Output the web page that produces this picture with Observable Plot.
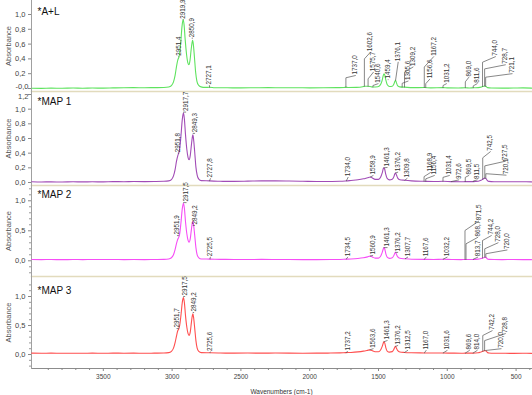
<!DOCTYPE html>
<html><head><meta charset="utf-8">
<script src="https://cdn.jsdelivr.net/npm/d3@7"></script>
<script src="https://cdn.jsdelivr.net/npm/@observablehq/plot@0.6"></script>
<style>
body{margin:0;background:#fff;}
#chart{position:relative;width:532px;height:395px;overflow:hidden;background:#fff;}
#chart svg{position:absolute;left:0;overflow:visible;background:transparent;}
</style></head><body><div id="chart"></div>
<script>
// ---- data ----
const panelNames = ["*A+L", "*MAP 1", "*MAP 2", "*MAP 3"];
const panelColors = ["#5fe35f", "#a24cb6", "#f64ef6", "#ff4f4f"];
const yTicksA = [0, 0.2, 0.4, 0.6, 0.8, 1.0];
const yTicksB = [0, 0.2, 0.4, 0.6, 0.8, 1.0, 1.2];
const yTicksC = [0, 0.5, 1.0];
const yMinorC = [-0.2, -0.1, 0.1, 0.2, 0.3, 0.4, 0.6, 0.7, 0.8, 0.9, 1.1, 1.2];
const xTickLabels = [3500, 3000, 2500, 2000, 1500, 1000, 500];
const xMinorTicks = [3900,3800,3700,3600,3400,3300,3200,3100,2900,2800,2700,2600,2400,2300,2200,2100,1900,1800,1700,1600,1400,1300,1200,1100,900,800,700,600,400];

// spectra: [wavenumber cm-1, absorbance]
const specAL = [[4020,0.004],[3950,0.002],[3880,0.005],[3800,0.003],[3720,0.006],[3650,0.004],[3580,0.006],[3500,0.005],[3430,0.008],[3350,0.011],[3280,0.012],[3200,0.01],[3130,0.012],[3060,0.014],[3025,0.02],[3005,0.04],[2990,0.09],[2978,0.18],[2968,0.3],[2958,0.39],[2951,0.42],[2945,0.48],[2937,0.63],[2928,0.84],[2920,0.93],[2913,0.86],[2905,0.66],[2895,0.46],[2886,0.35],[2878,0.32],[2870,0.38],[2862,0.52],[2855,0.62],[2851,0.65],[2846,0.6],[2838,0.43],[2829,0.22],[2820,0.1],[2808,0.045],[2790,0.022],[2760,0.015],[2727,0.016],[2690,0.011],[2600,0.01],[2500,0.008],[2400,0.01],[2300,0.012],[2200,0.01],[2100,0.011],[2000,0.009],[1900,0.01],[1800,0.012],[1750,0.013],[1737,0.018],[1720,0.013],[1660,0.015],[1615,0.024],[1602,0.03],[1576,0.03],[1555,0.024],[1540,0.02],[1505,0.024],[1488,0.045],[1475,0.1],[1466,0.17],[1460,0.2],[1454,0.18],[1446,0.11],[1436,0.05],[1420,0.027],[1400,0.03],[1388,0.06],[1380,0.1],[1376,0.11],[1370,0.08],[1362,0.04],[1345,0.022],[1310,0.018],[1250,0.012],[1167,0.013],[1120,0.009],[1031,0.012],[1000,0.008],[920,0.006],[869,0.01],[840,0.007],[811,0.01],[775,0.012],[752,0.02],[744,0.026],[729,0.034],[721,0.03],[708,0.012],[680,0.007],[600,0.005],[520,0.006],[450,0.008],[388,0.005]];
const specMAP1 = [[4020,0.01],[3950,0.007],[3880,0.009],[3800,0.006],[3720,0.01],[3650,0.008],[3580,0.01],[3500,0.008],[3430,0.012],[3350,0.011],[3280,0.013],[3200,0.012],[3130,0.013],[3060,0.016],[3025,0.022],[3005,0.04],[2990,0.09],[2978,0.18],[2968,0.29],[2958,0.37],[2952,0.4],[2945,0.46],[2936,0.63],[2926,0.86],[2918,0.95],[2911,0.87],[2903,0.66],[2893,0.45],[2884,0.34],[2877,0.31],[2868,0.37],[2860,0.51],[2853,0.62],[2849,0.65],[2844,0.59],[2836,0.42],[2827,0.21],[2818,0.1],[2806,0.045],[2788,0.025],[2728,0.022],[2650,0.016],[2550,0.015],[2450,0.018],[2350,0.022],[2250,0.022],[2150,0.02],[2050,0.017],[1950,0.013],[1850,0.014],[1780,0.016],[1734,0.022],[1700,0.028],[1650,0.037],[1610,0.05],[1580,0.065],[1559,0.075],[1545,0.062],[1525,0.042],[1500,0.042],[1485,0.07],[1473,0.13],[1465,0.19],[1461,0.2],[1455,0.18],[1447,0.11],[1437,0.055],[1420,0.036],[1400,0.045],[1388,0.08],[1381,0.12],[1376,0.13],[1370,0.105],[1360,0.06],[1345,0.038],[1310,0.03],[1260,0.022],[1169,0.016],[1100,0.013],[1031,0.016],[973,0.012],[900,0.01],[870,0.012],[811,0.012],[775,0.018],[755,0.03],[742,0.045],[728,0.06],[720,0.056],[710,0.03],[697,0.015],[660,0.011],[600,0.01],[520,0.011],[450,0.01],[388,0.008]];
const specMAP2 = [[4020,0.022],[3950,0.02],[3880,0.021],[3800,0.019],[3720,0.021],[3650,0.02],[3580,0.022],[3500,0.021],[3430,0.022],[3350,0.02],[3280,0.021],[3200,0.02],[3130,0.022],[3060,0.024],[3025,0.03],[3005,0.05],[2990,0.1],[2978,0.19],[2968,0.29],[2959,0.36],[2952,0.39],[2945,0.45],[2936,0.63],[2926,0.87],[2918,0.96],[2911,0.88],[2903,0.66],[2893,0.45],[2884,0.34],[2877,0.31],[2868,0.37],[2860,0.52],[2853,0.63],[2849,0.66],[2844,0.6],[2836,0.43],[2827,0.22],[2818,0.1],[2806,0.05],[2788,0.03],[2725,0.028],[2650,0.024],[2550,0.022],[2450,0.022],[2350,0.023],[2250,0.022],[2150,0.021],[2050,0.02],[1950,0.02],[1850,0.021],[1780,0.022],[1734,0.027],[1700,0.03],[1650,0.038],[1610,0.05],[1580,0.065],[1561,0.078],[1546,0.065],[1525,0.045],[1500,0.045],[1485,0.075],[1473,0.14],[1465,0.2],[1461,0.22],[1455,0.2],[1447,0.12],[1437,0.06],[1420,0.04],[1400,0.05],[1388,0.09],[1381,0.13],[1376,0.14],[1370,0.11],[1360,0.065],[1345,0.042],[1308,0.033],[1260,0.026],[1168,0.024],[1100,0.022],[1032,0.025],[970,0.022],[900,0.02],[870,0.022],[814,0.022],[775,0.027],[755,0.038],[744,0.045],[728,0.06],[720,0.058],[710,0.035],[697,0.024],[660,0.021],[600,0.02],[520,0.021],[450,0.02],[388,0.019]];
const specMAP3 = [[4020,0.024],[3950,0.022],[3880,0.024],[3800,0.021],[3720,0.023],[3650,0.022],[3580,0.024],[3500,0.022],[3430,0.024],[3350,0.023],[3280,0.024],[3200,0.022],[3130,0.024],[3060,0.026],[3025,0.032],[3005,0.055],[2990,0.11],[2978,0.21],[2968,0.32],[2959,0.41],[2952,0.44],[2945,0.5],[2936,0.67],[2926,0.9],[2918,0.98],[2911,0.9],[2903,0.68],[2893,0.47],[2884,0.36],[2877,0.33],[2868,0.39],[2860,0.55],[2853,0.67],[2849,0.7],[2844,0.64],[2836,0.46],[2827,0.24],[2818,0.11],[2806,0.055],[2788,0.033],[2726,0.03],[2650,0.026],[2550,0.024],[2450,0.025],[2350,0.024],[2250,0.025],[2150,0.024],[2050,0.023],[1950,0.024],[1850,0.025],[1780,0.028],[1737,0.033],[1700,0.036],[1650,0.045],[1610,0.058],[1580,0.072],[1564,0.08],[1548,0.068],[1525,0.048],[1500,0.047],[1485,0.078],[1473,0.14],[1465,0.2],[1461,0.22],[1455,0.2],[1447,0.12],[1437,0.06],[1420,0.042],[1400,0.05],[1388,0.09],[1381,0.13],[1376,0.14],[1370,0.11],[1360,0.066],[1345,0.044],[1312,0.035],[1260,0.03],[1167,0.027],[1100,0.025],[1031,0.026],[970,0.024],[900,0.022],[870,0.024],[814,0.024],[775,0.03],[755,0.045],[742,0.055],[729,0.068],[720,0.066],[710,0.04],[697,0.026],[660,0.022],[600,0.021],[520,0.02],[450,0.021],[388,0.02]];

// peak labels: [peak cm-1, text, leader start abs, leader knee abs, text cm-1, text abs]
const labelsAL = [[2951.4,"2951,4",0.43,0.43,2952,0.43],[2919.9,"2919,9",0.93,0.93,2920,0.93],[2850.9,"2850,9",0.68,0.68,2855,0.68],[2727.1,"2727,1",0.015,0.015,2729,0.04],[1737.0,"1737,0",0.018,0.145,1668,0.175],[1602.6,"1602,6",0.03,0.40,1559,0.49],[1575.7,"1575,7",0.03,0.13,1537,0.22],[1540.6,"1540,6",0.02,0.04,1503,0.065],[1430,"1459,4",0.12,0.12,1430,0.12],[1376.1,"1376,1",0.11,0.11,1357,0.355],[1328,"1305,6",0.02,0.07,1285,0.10],[1311,"1309,2",0.02,0.22,1249,0.29],[1167.2,"1167,2",0.013,0.29,1099,0.43],[1156.6,"1156,6",0.013,0.065,1128,0.125],[1031.2,"1031,2",0.012,0.04,1006,0.065],[869.0,"869,0",0.01,0.09,844,0.15],[811.6,"811,6",0.01,0.035,783,0.065],[744.0,"744,0",0.026,0.355,650,0.43],[728.7,"728,7",0.034,0.265,578,0.32],[721.1,"721,1",0.03,0.153,529,0.2]];
const labelsMAP1 = [[2951.8,"2951,8",0.40,0.40,2956,0.40],[2917.7,"2917,7",0.96,0.96,2901,0.96],[2849.3,"2849,3",0.67,0.67,2836,0.67],[2727.8,"2727,8",0.022,0.022,2722,0.053],[1734.0,"1734,0",0.022,0.022,1721,0.07],[1558.9,"1558,9",0.075,0.075,1539,0.095],[1461.3,"1461,3",0.2,0.2,1437,0.205],[1376.2,"1376,2",0.13,0.13,1360,0.14],[1309.8,"1309,8",0.03,0.03,1292,0.055],[1168.9,"1168,9",0.016,0.08,1123,0.135],[1156.4,"1156,4",0.016,0.05,1094,0.095],[1031.4,"1031,4",0.016,0.07,985,0.095],[972.6,"972,6",0.012,0.012,917,0.035],[869.5,"869,5",0.012,0.07,844,0.095],[811.5,"811,5",0.012,0.02,783,0.035],[742.5,"742,5",0.045,0.337,687,0.42],[727.5,"727,5",0.06,0.227,578,0.29],[720.1,"720,1",0.056,0.12,573,0.10]];
const labelsMAP2 = [[2951.9,"2951,9",0.42,0.42,2962,0.42],[2917.5,"2917,5",0.97,0.97,2898,0.97],[2849.2,"2849,2",0.59,0.59,2836,0.59],[2725.5,"2725,5",0.028,0.028,2722,0.06],[1734.5,"1734,5",0.027,0.027,1724,0.06],[1560.9,"1560,9",0.078,0.078,1542,0.09],[1461.3,"1461,3",0.22,0.22,1437,0.22],[1376.2,"1376,2",0.14,0.14,1360,0.14],[1307.7,"1307,7",0.033,0.033,1288,0.06],[1167.6,"1167,6",0.024,0.024,1154,0.06],[1032.2,"1032,2",0.025,0.025,1001,0.06],[871.5,"871,5",0.022,0.505,772,0.66],[864,"868,7",0.022,0.283,779,0.39],[813.7,"813,7",0.022,0.022,779,0.06],[744.2,"744,2",0.045,0.338,680,0.42],[728.0,"728,0",0.06,0.2,631,0.30],[720.0,"720,0",0.058,0.117,566,0.18]];
const labelsMAP3 = [[2951.7,"2951,7",0.448,0.448,2965,0.448],[2917.5,"2917,5",1.0,1.0,2908,1.0],[2849.2,"2849,2",0.724,0.724,2843,0.724],[2725.6,"2725,6",0.03,0.03,2722,0.045],[1737.2,"1737,2",0.033,0.033,1724,0.05],[1563.6,"1563,6",0.08,0.08,1539,0.1],[1461.3,"1461,3",0.22,0.22,1437,0.24],[1376.2,"1376,2",0.14,0.14,1360,0.155],[1312.5,"1312,5",0.035,0.035,1288,0.07],[1167.0,"1167,0",0.027,0.027,1154,0.07],[1031.6,"1031,6",0.026,0.026,1001,0.07],[869.6,"869,6",0.024,0.024,839,0.07],[814.0,"814,0",0.024,0.024,783,0.07],[742.2,"742,2",0.055,0.328,674,0.41],[728.8,"728,8",0.068,0.24,578,0.36],[720.0,"720,0",0.066,0.07,609,0.1]];

// ---- layout ----
const FONT = "'Liberation Sans', Arial, sans-serif";
const xDomain = [4022, 388];
const panels = [
  {spec: specAL, labels: labelsAL, top: 0, h: 91, yDom: [-0.0405, 1.189], ticks: yTicksA, minor: null, zero: "-0,0", titleDy: 7, nudge: {v: 0, dy: -1.5}},
  {spec: specMAP1, labels: labelsMAP1, top: 91, h: 94, yDom: [-0.041, 1.241], ticks: yTicksB, minor: null, zero: "0,0", titleDy: 6, nudge: {v: 1.2, dy: 1.8}},
  {spec: specMAP2, labels: labelsMAP2, top: 185, h: 91, yDom: [-0.262, 1.255], ticks: yTicksC, minor: yMinorC, zero: "0,0", titleDy: 5},
  {spec: specMAP3, labels: labelsMAP3, top: 276, h: 92, yDom: [-0.241, 1.345], ticks: yTicksC, minor: yMinorC, zero: "0,0", titleDy: 10, last: true}
];
const chart = document.getElementById("chart");

panels.forEach((p, k) => {
  const fmt = d => Math.abs(d) < 1e-9 ? p.zero : d.toFixed(1).replace(".", ",");
  const spec = p.spec.map(([wn, a]) => ({wn, a}));
  const leaders = p.labels.flatMap(([wn, t, y0, yk, tw, yt], i) => [{i, wn, a: y0}, {i, wn, a: yk}, {i, wn: tw, a: yt}]);
  const texts = p.labels.map(([wn, t, y0, yk, tw, yt]) => ({t, wn: tw, a: yt}));
  const mainTicks = p.nudge ? p.ticks.filter(v => v !== p.nudge.v) : p.ticks;
  const axisOpts = {tickSize: 3, tickPadding: 3, tickFormat: fmt, fontSize: 7.5, fill: "#444", stroke: "#888", label: null};
  const marks = [
    p.last ? Plot.frame({anchor: "bottom", stroke: "#8c8c8c"}) : Plot.frame({anchor: "bottom", stroke: "#e2dbbd", strokeWidth: 1.6}),
    Plot.frame({anchor: "left", stroke: "#a0a0a0"}),
    Plot.axisY({...axisOpts, ticks: mainTicks})
  ];
  if (p.nudge) {
    marks.push(Plot.axisY({...axisOpts, ticks: [p.nudge.v], text: null}));
    marks.push(Plot.axisY({...axisOpts, ticks: [p.nudge.v], tickSize: 0, stroke: null, dy: p.nudge.dy}));
  }
  if (p.minor) marks.push(Plot.axisY({ticks: p.minor, tickSize: 2, tickFormat: () => "", stroke: "#999", label: null}));
  if (p.last) {
    marks.push(
      Plot.axisX({ticks: xMinorTicks, tickSize: 2, tickFormat: () => "", stroke: "#888", label: null}),
      Plot.axisX({ticks: xTickLabels, tickSize: 3, tickPadding: 3, tickFormat: d => String(d), fontSize: 6.5, fill: "#444", stroke: "#888", label: null}),
      Plot.text(["Wavenumbers (cm-1)"], {frameAnchor: "bottom", dy: 23, lineAnchor: "middle", textAnchor: "middle", fontSize: 6.5, fill: "#333"})
    );
  }
  marks.push(
    Plot.line(spec, {x: "wn", y: "a", stroke: panelColors[k], strokeWidth: 1.1, curve: "monotone-x"}),
    Plot.line(leaders, {x: "wn", y: "a", z: "i", stroke: "#555", strokeWidth: 0.7}),
    Plot.text(texts, {x: "wn", y: "a", text: "t", rotate: -90, textAnchor: "start", lineAnchor: "middle", fontSize: 6.3, fill: "#333", dy: -1}),
    Plot.text([panelNames[k]], {frameAnchor: "top-left", dx: 6, dy: p.titleDy, fontSize: 10, fill: "#111", textAnchor: "start", lineAnchor: "top"}),
    Plot.text(["Absorbance"], {frameAnchor: "left", dx: -23, rotate: -90, textAnchor: "middle", lineAnchor: "middle", fontSize: 7.5, fill: "#555"})
  );
  const svg = Plot.plot({
    width: 532,
    height: p.h + (p.last ? 27 : 0),
    marginLeft: 31, marginRight: 1, marginTop: 0, marginBottom: p.last ? 27 : 0,
    x: {domain: xDomain, axis: p.last ? undefined : null},
    y: {domain: p.yDom},
    style: {fontFamily: FONT, background: "transparent", overflow: "visible", color: "#444"},
    marks
  });
  svg.style.top = p.top + "px";
  chart.appendChild(svg);
});
</script></body></html>
